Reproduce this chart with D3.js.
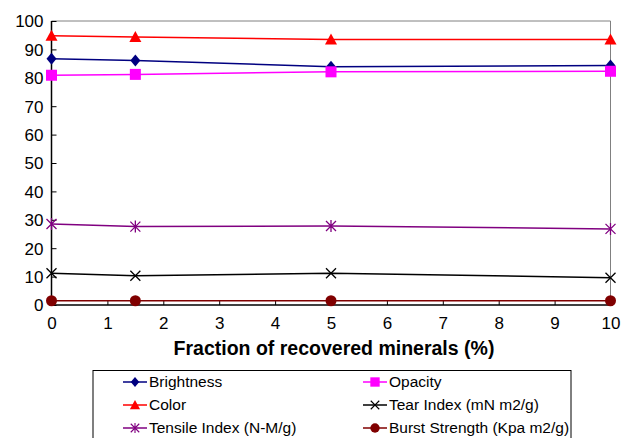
<!DOCTYPE html>
<html>
<head>
<meta charset="utf-8">
<script src="https://cdn.jsdelivr.net/npm/d3@7"></script>
<style>
  html, body { margin: 0; padding: 0; background: #fff; }
  svg { display: block; font-family: "Liberation Sans", Arial, sans-serif; }
</style>
</head>
<body>
<svg id="chart" width="622" height="438"></svg>
<script>
// Fraction of recovered minerals (%)
const fractions = [0, 1.5, 5, 10];

// Paper properties at each fraction
const brightness = [86.7, 86.1, 83.9, 84.3];
const opacity    = [80.9, 81.2, 82.1, 82.3];
const color      = [94.8, 94.4, 93.5, 93.5];
const tearIndex  = [11.2, 10.3, 11.2, 9.6];
const tensile    = [28.5, 27.6, 27.8, 26.8];
const burst      = [1.5, 1.5, 1.5, 1.5];

const xTicks = [0, 1, 2, 3, 4, 5, 6, 7, 8, 9, 10];
const yTicks = [0, 10, 20, 30, 40, 50, 60, 70, 80, 90, 100];

const seriesNames = ["Brightness", "Opacity", "Color", "Tear Index (mN m2/g)",
                     "Tensile Index (N-M/g)", "Burst Strength (Kpa m2/g)"];
const seriesValues = [brightness, opacity, color, tearIndex, tensile, burst];
const seriesColors = ["#000080", "#ff00ff", "#ff0000", "#000000", "#800080", "#800000"];
const seriesMarkers = ["diamond", "square", "triangle", "cross", "star", "circle"];

const svg = d3.select("#chart");
const plot = { left: 51.5, top: 21, right: 610.5, bottom: 305 };

const x = d3.scaleLinear().domain([0, 10]).range([plot.left, plot.right]);
const y = d3.scaleLinear().domain([0, 100]).range([plot.bottom, plot.top]);

// frame: top and right in grey
svg.append("path")
  .attr("d", `M${plot.left},${plot.top}H${plot.right}V${plot.bottom}`)
  .attr("fill", "none").attr("stroke", "#808080").attr("stroke-width", 1);

// axes with inward ticks
const xAxis = d3.axisBottom(x).tickValues(xTicks).tickSize(-5).tickPadding(12).tickFormat(d3.format("d"));
const yAxis = d3.axisLeft(y).tickValues(yTicks).tickSize(-5).tickPadding(8).tickFormat(d3.format("d"));

const gx = svg.append("g").attr("transform", `translate(0,${plot.bottom})`).call(xAxis);
const gy = svg.append("g").attr("transform", `translate(${plot.left},0)`).call(yAxis);
[gx, gy].forEach(g => {
  g.select(".domain").attr("stroke", "#000").attr("stroke-width", 1.5);
  g.selectAll(".tick line").attr("stroke", "#000").attr("stroke-width", 1);
  g.selectAll(".tick text").attr("fill", "#000").style("font-size", "17px")
    .style("font-family", "Liberation Sans, Arial, sans-serif");
});
gx.select(".domain").attr("d", `M${plot.left},0H${plot.right}`);
gy.select(".domain").attr("d", `M0,${plot.bottom}V${plot.top}`);
gy.selectAll(".tick text").attr("dy", "0.35em");

// axis title
svg.append("text")
  .attr("x", (plot.left + plot.right) / 2 + 3).attr("y", 355)
  .attr("text-anchor", "middle")
  .style("font-size", "19.5px").style("font-weight", "bold")
  .text("Fraction of recovered minerals (%)");

// marker drawing
function drawMarker(g, type, fill) {
  switch (type) {
    case "diamond":
      g.append("path").attr("d", "M0,-6L5,0L0,6L-5,0Z").attr("fill", fill); break;
    case "square":
      g.append("rect").attr("x", -5.5).attr("y", -5.5).attr("width", 11).attr("height", 11).attr("fill", fill); break;
    case "triangle":
      g.append("path").attr("d", "M0,-6L6,5L-6,5Z").attr("fill", fill); break;
    case "cross":
      g.append("path").attr("d", "M-5,-5L5,5M-5,5L5,-5").attr("stroke", fill).attr("stroke-width", 1.3).attr("fill", "none"); break;
    case "star":
      g.append("path").attr("d", "M-5,-5L5,5M-5,5L5,-5M0,-6V6").attr("stroke", fill).attr("stroke-width", 1.3).attr("fill", "none"); break;
    case "circle":
      g.append("circle").attr("r", 5.5).attr("fill", fill); break;
  }
}

const line = d3.line().x(d => x(d[0])).y(d => y(d[1]));

seriesValues.forEach((vals, i) => {
  const pts = fractions.map((f, j) => [f, vals[j]]);
  svg.append("path").datum(pts)
    .attr("d", line).attr("fill", "none")
    .attr("stroke", seriesColors[i]).attr("stroke-width", 1.5);
  pts.forEach(p => {
    const g = svg.append("g").attr("transform", `translate(${x(p[0])},${y(p[1])})`);
    drawMarker(g, seriesMarkers[i], seriesColors[i]);
  });
});

// legend
const legend = svg.append("g");
legend.append("rect").attr("x", 93).attr("y", 370.5).attr("width", 478).attr("height", 80)
  .attr("fill", "#fff").attr("stroke", "#000").attr("stroke-width", 1);

const colX = [123, 363];
const rowY = [382, 405, 428];
seriesNames.forEach((name, i) => {
  const cx = colX[i % 2], cy = rowY[Math.floor(i / 2)];
  const g = legend.append("g").attr("transform", `translate(${cx},${cy})`);
  g.append("line").attr("x1", 0).attr("x2", 24).attr("stroke", seriesColors[i]).attr("stroke-width", 1.5);
  const m = g.append("g").attr("transform", "translate(12,0) scale(0.85)");
  drawMarker(m, seriesMarkers[i], seriesColors[i]);
  g.append("text").attr("x", 26).attr("y", 0).attr("dy", "0.35em")
    .style("font-size", "15.5px").text(name);
});
</script>
</body>
</html>
